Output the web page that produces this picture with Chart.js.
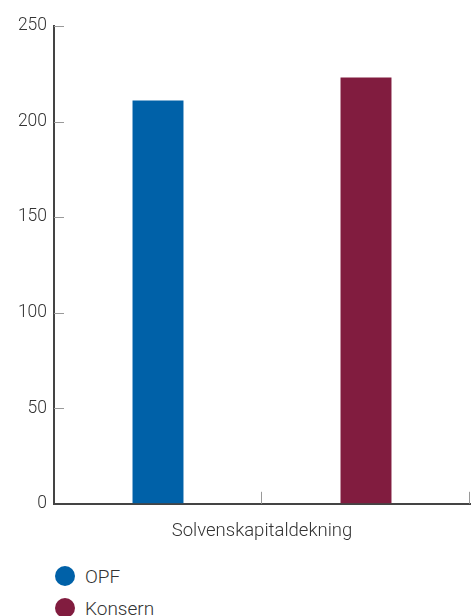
<!DOCTYPE html>
<html>
<head>
<meta charset="utf-8">
<script src="https://cdn.jsdelivr.net/npm/chart.js@4/dist/chart.umd.min.js"></script>
<style>
  body { margin: 0; background: #fff; font-family: Roboto, sans-serif; overflow: hidden; }
  #wrap { position: relative; width: 474px; height: 558px; }
  #legend { list-style: none; margin: 2px 0 0 0; padding: 0 0 0 55px; }
  #legend li { display: flex; align-items: center; height: 32px; font-size: 19px; font-weight: 300; color: #333; }
  #legend span.dot { display: inline-block; width: 20px; height: 20px; border-radius: 50%; margin-right: 10px; }
</style>
</head>
<body>
<div id="wrap"><canvas id="chart"></canvas></div>
<ul id="legend"></ul>
<script>
const categories = ['Solvenskapitaldekning'];
const seriesNames = ['OPF', 'Konsern'];
const opfValues = [211];
const konsernValues = [223];
const yTicks = [0, 50, 100, 150, 200, 250];
const colors = ['#0061a8', '#811c3f'];

const axisColor = '#444';
const tickColor = '#999';

// short tick marks drawn inward from the axes
const innerTicks = {
  id: 'innerTicks',
  afterDraw(chart) {
    const ctx = chart.ctx;
    const x = chart.scales.x;
    const y = chart.scales.y;
    const area = chart.chartArea;
    ctx.save();
    ctx.strokeStyle = tickColor;
    ctx.lineWidth = 1;
    yTicks.forEach(v => {
      if (v === 0) return;
      const py = Math.round(y.getPixelForValue(v)) + 0.5;
      ctx.beginPath();
      ctx.moveTo(area.left, py);
      ctx.lineTo(area.left + 10, py);
      ctx.stroke();
    });
    [x.getPixelForValue(0), area.right].forEach(px => {
      px = Math.round(px) - 0.5;
      ctx.beginPath();
      ctx.moveTo(px, area.bottom);
      ctx.lineTo(px, area.bottom - 12);
      ctx.stroke();
    });
    ctx.restore();
  }
};

const chart = new Chart(document.getElementById('chart'), {
  type: 'bar',
  data: {
    labels: categories,
    datasets: [
      { label: seriesNames[0], data: opfValues, backgroundColor: colors[0] },
      { label: seriesNames[1], data: konsernValues, backgroundColor: colors[1] }
    ]
  },
  options: {
    responsive: true,
    maintainAspectRatio: false,
    animation: false,
    layout: { padding: { left: 0, right: 4, top: 26, bottom: 0 } },
    datasets: { bar: { categoryPercentage: 1, barPercentage: 0.245 } },
    plugins: { legend: { display: false }, tooltip: { enabled: false } },
    scales: {
      x: {
        grid: { display: true, drawOnChartArea: false, drawTicks: false },
        border: { display: true, color: axisColor, width: 2 },
        ticks: { color: '#333', font: { family: 'Roboto', size: 18.5, weight: 300 }, padding: 16 }
      },
      y: {
        min: 0,
        max: 250,
        afterBuildTicks(scale) { scale.ticks = yTicks.map(v => ({ value: v })); },
        afterFit(scale) { scale.width = 54; },
        grid: { display: true, drawOnChartArea: false, drawTicks: false },
        border: { display: true, color: axisColor, width: 2 },
        ticks: { color: '#333', font: { family: 'Roboto', size: 17.5, weight: 300 }, padding: 7 }
      }
    }
  },
  plugins: [innerTicks]
});

const legend = document.getElementById('legend');
chart.data.datasets.forEach(ds => {
  const li = document.createElement('li');
  li.innerHTML = '<span class="dot" style="background:' + ds.backgroundColor + '"></span>' + ds.label;
  legend.appendChild(li);
});
</script>
</body>
</html>
